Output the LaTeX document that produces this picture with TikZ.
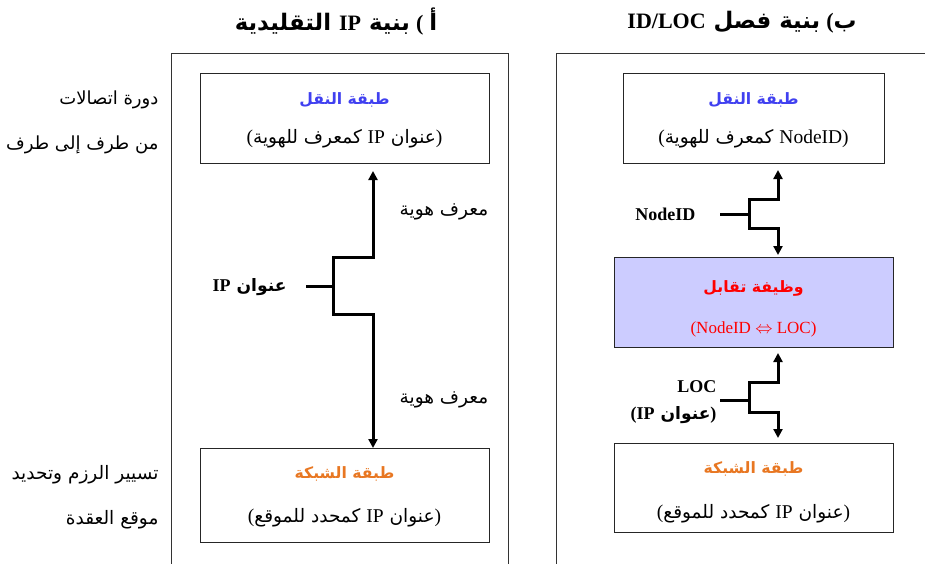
\documentclass[tikz,border=0pt]{standalone}
\usepackage{fontspec}
\setmainfont{Liberation Serif}
\newfontfamily\arabicfont[Script=Arabic,Scale=0.95]{DejaVu Sans}
\TeXXeTstate=1
\usetikzlibrary{arrows.meta}
\definecolor{layerblue}{RGB}{64,64,240}
\definecolor{layerorange}{RGB}{232,119,34}
\definecolor{mapred}{RGB}{255,0,0}
\definecolor{mapfill}{RGB}{204,204,255}
\newcommand{\artxt}[1]{{\arabicfont\beginR #1\endR}}
\newcommand{\ltn}[1]{\beginL{\rmfamily #1}\endL}
\newcommand{\ttllat}[1]{\ltn{\fontsize{22}{24}\selectfont #1}}

\begin{document}
\begin{tikzpicture}[x=1pt, y=-1pt, font=\fontsize{19.5}{22}\selectfont, line join=miter, >={Triangle[length=9pt,width=9pt]},
	layer/.style={draw=black!85, line width=0.9pt, minimum width=#1, minimum height=90pt, inner sep=0pt},
	head/.style={font=\fontsize{16.5}{20}\selectfont\bfseries},
	conn/.style={line width=3pt},
	frame/.style={draw=black!80, line width=0.9pt},
	ttl/.style={font=\fontsize{24}{26}\selectfont\bfseries},
	lbl/.style={font=\fontsize{18}{20}\selectfont\bfseries}]
	\useasboundingbox (0,0) rectangle (925,564);
	%\draw[gray!10] (0,0) grid (925,564);
	% cadres
	\draw[frame] (171,564)--(171,53)--(508,53)--(508,564);
	\draw[frame] (556,564)--(556,53)--(925,53);
	\node[ttl] (ta) at (336,22) {\artxt{بنية \ttllat{IP} التقليدية} {\fontsize{22}{24}\selectfont(} \artxt{أ}};
	\node[ttl] (tb) at (742,22) {\artxt{بنية فصل \ttllat{ID/LOC}} {\fontsize{22}{24}\selectfont(}\artxt{ب}};
	% a) IP
	\node[layer=289pt] (tl) at (344.5,118) {};
	\node[layer=289pt, minimum height=94pt] (nl) at (344.5,495) {};
	\node[layerblue, head] (tlh) at (344.5,100) {\artxt{طبقة النقل}};
	\node (tls) at (344.5,139) {(\artxt{عنوان \ltn{IP} كمعرف للهوية})};
	\node[layerorange, head] (nlh) at (344.5,474) {\artxt{طبقة الشبكة}};
	\node (nls) at (344.5,518) {(\artxt{عنوان \ltn{IP} كمحدد للموقع})};
	\node[anchor=east, font=\fontsize{19}{22}\selectfont] (e1) at (162,100) {\artxt{دورة اتصالات}};
	\node[anchor=east, font=\fontsize{19}{22}\selectfont] (e2) at (162,145) {\artxt{من طرف إلى طرف}};
	\node[anchor=east] (r1) at (162,475) {\artxt{تسيير الرزم وتحديد}};
	\node[anchor=east] (r2) at (162,520) {\artxt{موقع العقدة}};
	\coordinate (A) at (373,171); \coordinate (B) at (373,257);
	\coordinate (C) at (333,257); \coordinate (D) at (333,314);
	\coordinate (E) at (373,314); \coordinate (F) at (373,448);
	\coordinate (M) at (333,286); \coordinate (S) at (306,286);
	\draw[conn,<->] (A)--(B)--(C)--(D)--(E)--(F);
	\draw[conn] (S)--(M);
	\node[anchor=east, lbl] (ip) at (290,287) {\artxt{عنوان \ltn{IP}}};
	\node (h1) at (444,212) {\artxt{معرف هوية}};
	\node (h2) at (444,400) {\artxt{معرف هوية}};
	% b) ID/LOC
	\node[layer=261pt] (tr) at (753.5,118) {};
	\node[layer=279pt, fill=mapfill] (mp) at (753.5,302) {};
	\node[layer=279pt, minimum height=89pt] (nr) at (753.5,487.5) {};
	\node[layerblue, head] (trh) at (753.5,100) {\artxt{طبقة النقل}};
	\node (trs) at (753.5,139) {(\artxt{\ltn{NodeID} كمعرف للهوية})};
	\node[mapred, head] (mph) at (753.5,288) {\artxt{وظيفة تقابل}};
	\node[mapred, font=\fontsize{17}{20}\selectfont] (mps) at (753.5,329) {(NodeID $\Leftrightarrow$ LOC)};
	\node[layerorange, head] (nrh) at (753.5,469) {\artxt{طبقة الشبكة}};
	\node (nrs) at (753.5,514) {(\artxt{عنوان \ltn{IP} كمحدد للموقع})};
	\coordinate (P1) at (778,170); \coordinate (P2) at (778,199);
	\coordinate (P3) at (749,199); \coordinate (P4) at (749,228);
	\coordinate (P5) at (778,228); \coordinate (P6) at (778,255);
	\coordinate (PM) at (749,214); \coordinate (PS) at (720,214);
	\draw[conn,<->] (P1)--(P2)--(P3)--(P4)--(P5)--(P6);
	\draw[conn] (PS)--(PM);
	\node[anchor=east, lbl] (nid) at (699,214) {NodeID};
	\coordinate (Q1) at (778,353); \coordinate (Q2) at (778,382);
	\coordinate (Q3) at (749,382); \coordinate (Q4) at (749,412);
	\coordinate (Q5) at (778,412); \coordinate (Q6) at (778,438);
	\coordinate (QM) at (749,400); \coordinate (QS) at (720,400);
	\draw[conn,<->] (Q1)--(Q2)--(Q3)--(Q4)--(Q5)--(Q6);
	\draw[conn] (QS)--(QM);
	\node[anchor=east, lbl] (loc) at (720,387) {LOC};
	\node[anchor=east, lbl] (lip) at (720,415) {(\artxt{عنوان \ltn{IP}})};
\end{tikzpicture}
\end{document}
